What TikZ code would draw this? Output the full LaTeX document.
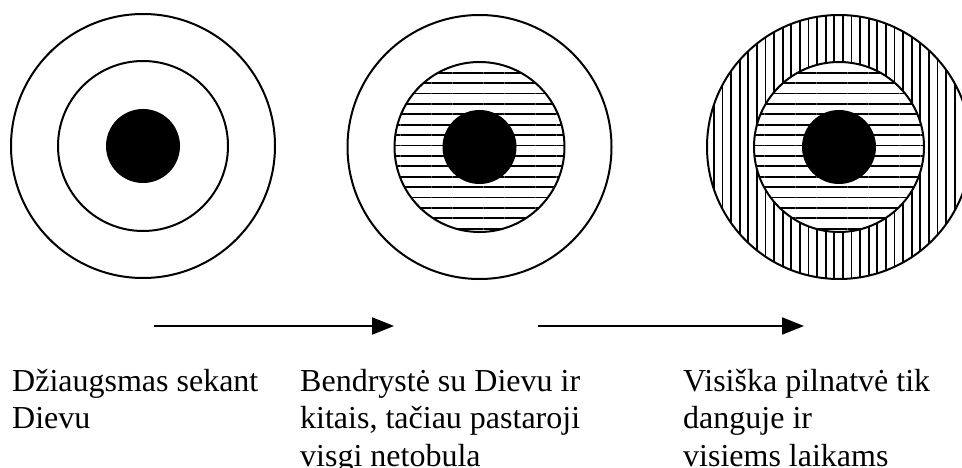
\documentclass[tikz,border=0pt]{standalone}
\usepackage{fontspec}
\setmainfont{Liberation Serif}
\usetikzlibrary{arrows.meta, patterns.meta}

\begin{document}
\begin{tikzpicture}[x=1pt, y=-1pt,
       > = {Triangle[length=22pt, width=17pt]},
 ring/.style = {draw, line width=2pt},
hlines/.style = {pattern={Lines[angle=0, distance=10.4pt, line width=1.8pt]}},
vlines/.style = {pattern={Lines[angle=90, distance=8.6pt, line width=1.8pt]}},
 core/.style = {fill=black},
 note/.style = {align=left, anchor=base west, inner sep=0pt,
                font=\fontsize{32}{37.5}\selectfont},
arrow/.style = {line width=2pt, ->}
                        ]
\useasboundingbox (0,0) rectangle (962,468);
% centres
\coordinate (c1) at (143,146);
\coordinate (c2) at (479.5,147);
\coordinate (c3) at (839,147);
% first: empty rings
\draw[ring] (c1) circle[radius=132pt];
\draw[ring] (c1) circle[radius=85pt];
\fill[core] (c1) circle[radius=37pt];
% second: inner ring hatched
\draw[ring] (c2) circle[radius=132pt];
\draw[ring, hlines, preaction={fill=white}] (c2) circle[radius=85pt];
\fill[core] (c2) circle[radius=37pt];
% third: both rings hatched
\draw[ring, vlines, preaction={fill=white}] (c3) circle[radius=132pt];
\draw[ring, hlines, preaction={fill=white}] (c3) circle[radius=85pt];
\fill[core] (c3) circle[radius=37pt];
% arrows
\coordinate (a1) at (154,326);
\coordinate (b1) at (394,326);
\coordinate (a2) at (538,326);
\coordinate (b2) at (804,326);
\draw[arrow] (a1) -- (b1);
\draw[arrow] (a2) -- (b2);
% captions (base = last line)
\node[note] (t1) at (12,428.5) {Džiaugsmas sekant\\Dievu};
\node[note] (t2) at (300,466) {Bendrystė su Dievu ir\\kitais, tačiau pastaroji\\visgi netobula};
\node[note] (t3) at (683,466) {Visiška pilnatvė tik\\danguje ir\\visiems laikams};
\end{tikzpicture}
\end{document}
